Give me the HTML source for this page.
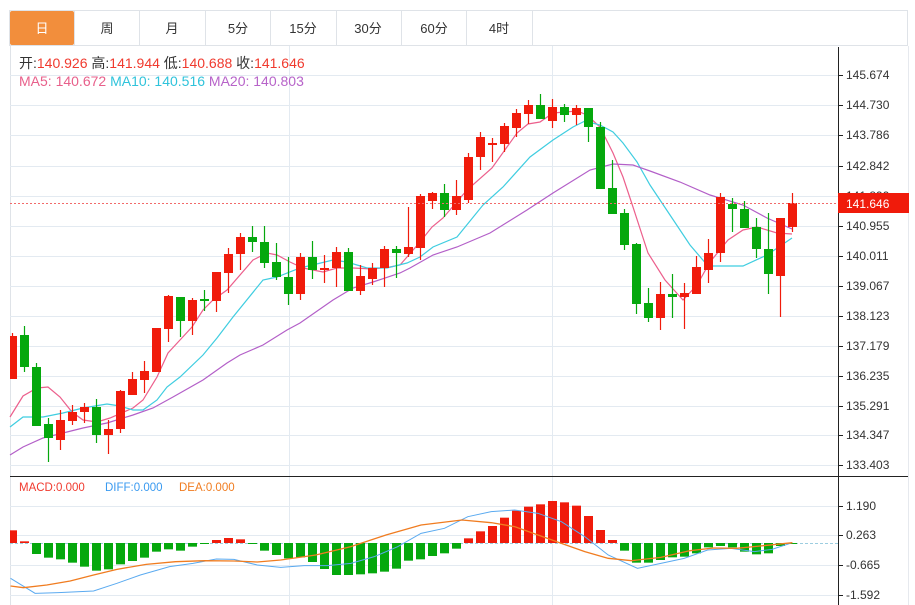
<!DOCTYPE html>
<html><head><meta charset="utf-8"><style>
html,body{margin:0;padding:0;background:#fff;}
body{width:915px;height:605px;overflow:hidden;position:relative;font-family:"Liberation Sans","Noto Sans CJK SC",sans-serif;}
svg{position:absolute;left:0;top:0;}
</style></head><body>
<svg id="s" width="915" height="605" xmlns="http://www.w3.org/2000/svg" font-family="Liberation Sans, Noto Sans CJK SC, sans-serif">
<rect x="9.5" y="10.5" width="898" height="35" fill="#fff" stroke="#dfe3e8"/>
<rect x="10" y="11" width="64" height="34" fill="#f28e3c" rx="2"/>
<g stroke="#dfe3e8"><line x1="74.5" y1="11" x2="74.5" y2="45"/><line x1="139.5" y1="11" x2="139.5" y2="45"/><line x1="205.5" y1="11" x2="205.5" y2="45"/><line x1="270.5" y1="11" x2="270.5" y2="45"/><line x1="336.5" y1="11" x2="336.5" y2="45"/><line x1="401.5" y1="11" x2="401.5" y2="45"/><line x1="466.5" y1="11" x2="466.5" y2="45"/><line x1="532.5" y1="11" x2="532.5" y2="45"/></g>
<g font-size="13" text-anchor="middle" fill="#333">
<text x="42" y="33" fill="#fff">日</text><text x="107" y="33">周</text><text x="172" y="33">月</text><text x="238" y="33">5分</text><text x="303" y="33">15分</text><text x="368" y="33">30分</text><text x="434" y="33">60分</text><text x="499" y="33">4时</text>
</g>
<line x1="10.5" y1="46" x2="10.5" y2="605" stroke="#dfe3e8"/>
<line x1="908.5" y1="46" x2="908.5" y2="605" stroke="#e6e9ee"/>
<g id="grid" stroke="#e3eaf1" stroke-width="1"></g>
<line x1="289.5" y1="46" x2="289.5" y2="605" stroke="#e3eaf1"/>
<line x1="552.5" y1="46" x2="552.5" y2="605" stroke="#e3eaf1"/>
<g id="ma"></g>
<g id="candles"></g>
<line x1="10" y1="203.5" x2="838" y2="203.5" stroke="#f26a6a" stroke-dasharray="2,2"/>
<line x1="10" y1="476.5" x2="908" y2="476.5" stroke="#222"/>
<line x1="838.5" y1="47" x2="838.5" y2="605" stroke="#222"/>
<g id="ticks" stroke="#222"></g>
<g font-size="12" fill="#333">
<text x="846" y="79">145.674</text><text x="846" y="109">144.730</text><text x="846" y="139">143.786</text><text x="846" y="170">142.842</text><text x="846" y="200">141.899</text><text x="846" y="230">140.955</text><text x="846" y="260">140.011</text><text x="846" y="290">139.067</text><text x="846" y="320">138.123</text><text x="846" y="350">137.179</text><text x="846" y="380">136.235</text><text x="846" y="410">135.291</text><text x="846" y="439">134.347</text><text x="846" y="469">133.403</text>
<text x="846" y="510">1.190</text><text x="846" y="539">0.263</text><text x="846" y="569">-0.665</text><text x="846" y="599">-1.592</text>
</g>
<rect x="838" y="193" width="71" height="20" fill="#f01b0b"/>
<text x="846" y="208" font-size="12" fill="#fff">141.646</text>
<g font-size="14">
<text x="19" y="68" fill="#333">开:<tspan fill="#f03a2e">140.926</tspan>  高:<tspan fill="#f03a2e">141.944</tspan>  低:<tspan fill="#f03a2e">140.688</tspan>  收:<tspan fill="#f03a2e">141.646</tspan></text>
<text x="19" y="86"><tspan fill="#e8608b">MA5: 140.672</tspan>  <tspan fill="#2fc3db">MA10: 140.516</tspan>  <tspan fill="#b763c9">MA20: 140.803</tspan></text>
</g>
<g font-size="11.5">
<text x="19" y="491" fill="#f03a2e">MACD:0.000</text><text x="105" y="491" fill="#3a9af0">DIFF:0.000</text><text x="179" y="491" fill="#f07c20">DEA:0.000</text>
</g>
<g id="macd"></g>
</svg>
<script>
var NS="http://www.w3.org/2000/svg";
function el(p,t,a){var e=document.createElementNS(NS,t);for(var k in a)e.setAttribute(k,a[k]);document.getElementById(p).appendChild(e);return e;}
[75,105,135,166,196,226,256,286,316,346,376,406,435,465,506,535,565,595].forEach(function(y){el("grid","line",{x1:10,x2:838,y1:y+.5,y2:y+.5});el("ticks","line",{x1:838,x2:843,y1:y+.5,y2:y+.5});});
el("grid","line",{x1:10,x2:838,y1:543.5,y2:543.5,stroke:"#9ccde0","stroke-dasharray":"3,2"});
var C=[[1,336,379,333,379],[0,335,367,326,372],[0,367,426,363,426],[0,424,438,418,462],[1,420,440,410,450],[1,412,421,405,425],[1,407,412,403,423],[0,407,435,399,443],[1,429,435,420,454],[1,391,429,390,433],[1,379,395,372,395],[1,371,380,361,393],[1,328,372,328,372],[1,296,329,295,342],[0,297,321,297,337],[1,300,321,298,335],[0,299,301,290,311],[1,272,301,272,312],[1,254,273,248,293],[1,237,254,233,270],[0,237,242,226,252],[0,242,263,226,268],[0,262,277,243,280],[0,277,294,257,305],[1,257,294,253,300],[0,257,270,241,279],[1,268,270,255,283],[1,252,268,247,287],[0,252,291,248,291],[1,276,291,265,295],[1,268,279,263,285],[1,249,268,246,287],[0,249,253,246,278],[1,247,254,207,257],[1,196,248,194,260],[1,193,201,192,209],[0,193,210,184,217],[1,196,210,180,215],[1,157,200,153,203],[1,137,157,132,170],[1,143,145,138,162],[1,126,144,123,152],[1,113,128,109,137],[1,105,114,100,124],[0,105,119,94,119],[1,107,121,99,128],[0,107,115,104,122],[1,108,115,105,125],[0,108,127,108,142],[0,127,189,122,189],[0,188,214,160,214],[0,213,245,209,250],[0,244,304,243,314],[0,303,318,288,322],[1,294,318,282,330],[0,294,297,274,318],[1,293,297,283,329],[1,267,294,256,294],[1,253,270,239,283],[1,197,253,193,262],[0,204,209,198,232],[0,209,228,201,228],[0,227,249,218,258],[0,249,274,213,294],[1,218,276,218,317],[1,203,227,193,232]];
C.forEach(function(c,k){var x=12.5+12*k,col=c[0]?"#f01b0b":"#05a80d";
el("candles","line",{x1:x,x2:x,y1:c[3],y2:c[4],stroke:col,"stroke-width":1.2});
var l=Math.max(x-4.5,10);el("candles","rect",{x:l,y:c[1],width:x+4.5-l,height:Math.max(c[2]-c[1],1.5),fill:col});});
function pl(g,pts,col,w){el(g,"polyline",{points:pts.map(function(p){return p.join(",")}).join(" "),fill:"none",stroke:col,"stroke-width":w||1.2});}
pl("ma",[[10,417],[23,396],[37,388],[48,387],[60,397],[72,412],[83,420],[97,422],[110,418],[133,408],[143,400],[157,377],[168,353],[180,340],[192,327],[203,310],[213,300],[227,290],[253,260],[267,253],[277,255],[290,262],[303,268],[323,272],[337,268],[353,268],[373,269],[390,267],[400,265],[407,257],[420,242],[432,227],[443,218],[467,190],[492,168],[517,133],[528,124],[540,122],[553,113],[577,111],[587,115],[600,127],[613,153],[623,177],[633,207],[648,253],[665,280],[683,300],[697,285],[710,262],[728,240],[743,230],[757,227],[777,233],[792,234]],"#ec5f8c");
pl("ma",[[10,427],[23,417],[43,417],[63,413],[83,408],[107,404],[120,406],[133,410],[143,410],[157,400],[167,387],[180,377],[203,355],[217,338],[233,317],[263,280],[277,277],[300,268],[333,260],[347,262],[367,268],[387,268],[407,263],[420,257],[433,247],[457,237],[483,205],[503,187],[530,157],[553,140],[573,127],[585,121],[600,125],[613,132],[623,143],[637,162],[650,185],[670,215],[690,245],[708,266],[743,266],[767,255],[792,238]],"#3fcde0");
pl("ma",[[10,455],[23,447],[43,438],[63,433],[83,428],[107,423],[133,415],[153,408],[173,397],[203,380],[227,363],[240,355],[263,345],[287,330],[300,323],[333,300],[353,288],[373,282],[400,273],[410,268],[433,255],[457,247],[490,233],[527,210],[553,193],[590,170],[613,164],[633,165],[650,171],[680,182],[710,195],[743,205],[767,218],[792,229]],"#b35fc8");
var M=[181,214,252,263,268,278,290,302,298,283,273,263,245,238,242,230,222,210,204,208,222,242,255,265,262,276,297,315,315,313,310,305,296,272,268,258,250,236,205,184,168,143,122,110,103,93,97,107,138,180,210,242,278,278,270,262,260,250,232,228,232,245,253,250,228,220];
M.forEach(function(v,k){var x=12.5+12*k,y=470+v/3,z=543;var l=Math.max(x-4.5,10);
el("macd","rect",{x:l,y:Math.min(y,z),width:x+4.5-l,height:Math.max(Math.abs(y-z),1),fill:y<z?"#f01b0b":"#05a80d"});});
function cv(a){return a.map(function(p){return [p[0]/1.71,470+p[1]/3]});}
pl("macd",cv([[18,325],[60,370],[100,368],[160,363],[200,340],[240,315],[290,290],[330,280],[370,267],[400,268],[440,285],[480,292],[520,287],[560,287],[600,280],[640,260],[680,230],[720,190],[760,175],[800,140],[840,125],[880,120],[920,130],[960,155],[1000,200],[1040,255],[1090,295],[1130,280],[1170,265],[1210,240],[1250,235],[1290,245],[1320,238],[1355,218]]),"#5aaaf0",1);
pl("macd",cv([[18,348],[40,353],[80,345],[120,333],[160,315],[200,298],[250,283],[300,275],[350,272],[400,273],[440,276],[480,270],[540,255],[600,230],[660,195],[720,165],[790,150],[840,158],[880,170],[920,195],[960,220],[1000,245],[1040,265],[1080,272],[1130,262],[1180,242],[1220,234],[1260,235],[1300,228],[1355,218]]),"#f07c20",1.3);
</script>
</body></html>
